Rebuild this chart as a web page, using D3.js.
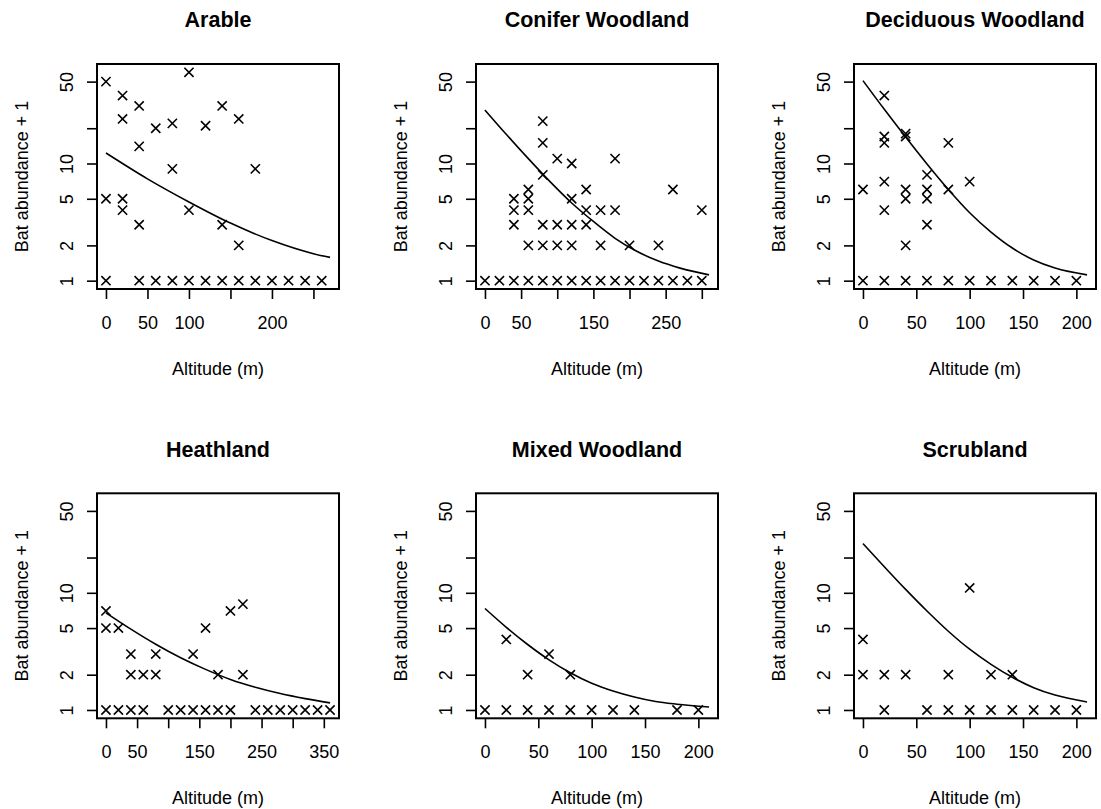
<!DOCTYPE html>
<meta charset="utf-8">
<html>
<head>
<style>
  body { margin: 0; background: #fff; }
  text { font-family: "Liberation Sans", Arial, Helvetica, sans-serif; fill: #000; }
  text.title { font-size: 21.5px; font-weight: bold; }
  text.lab { font-size: 18px; }
  .tick text { font-size: 18px; }
</style>
<script src="https://cdn.jsdelivr.net/npm/d3@7"></script>
</head>
<body>
<div id="chart"></div>
<script>
// habitat names, in panel order
var habitats = ["Arable", "Conifer Woodland", "Deciduous Woodland", "Heathland", "Mixed Woodland", "Scrubland"];

// observed points: altitude (m) and bat abundance + 1
var arableAlt = [0,0,0, 20,20,20,20, 40,40,40,40, 60,60, 80,80,80, 100,100,100, 120,120, 140,140,140, 160,160,160, 180,180, 200, 220, 240, 260];
var arableBat = [50,5,1, 38,24,5,4, 31,14,3,1, 20,1, 22,9,1, 60,4,1, 21,1, 31,3,1, 24,2,1, 9,1, 1, 1, 1, 1];

var coniferAlt = [0, 20, 40,40,40,40, 60,60,60,60,60, 80,80,80,80,80,80, 100,100,100,100, 120,120,120,120,120, 140,140,140,140, 160,160,160, 180,180,180, 200,200, 220, 240,240, 260,260, 280, 300,300];
var coniferBat = [1, 1, 5,4,3,1, 6,5,4,2,1, 23,15,8,3,2,1, 11,3,2,1, 10,5,3,2,1, 6,4,3,1, 4,2,1, 11,4,1, 2,1, 1, 2,1, 6,1, 1, 4,1];

var deciduousAlt = [0,0, 20,20,20,20,20,20, 40,40,40,40,40,40, 60,60,60,60,60, 80,80,80, 100,100, 120, 140, 160, 180, 200];
var deciduousBat = [6,1, 38,17,15,7,4,1, 18,17,6,5,2,1, 8,6,5,3,1, 15,6,1, 7,1, 1, 1, 1, 1, 1];

var heathAlt = [0,0,0, 20,20, 40,40,40, 60,60, 80,80, 100, 120, 140,140, 160,160, 180,180, 200,200, 220,220, 240, 260, 280, 300, 320, 340, 360];
var heathBat = [7,5,1, 5,1, 3,2,1, 2,1, 3,2, 1, 1, 3,1, 5,1, 2,1, 7,1, 8,2, 1, 1, 1, 1, 1, 1, 1];

var mixedAlt = [0, 20,20, 40,40, 60,60, 80,80, 100, 120, 140, 180, 200];
var mixedBat = [1, 4,1, 2,1, 3,1, 2,1, 1, 1, 1, 1, 1];

var scrubAlt = [0,0, 20,20, 40, 60, 80,80, 100,100, 120,120, 140,140, 160, 180, 200];
var scrubBat = [4,2, 2,1, 2, 1, 2,1, 11,1, 2,1, 2,1, 1, 1, 1];

// fitted curves
var arableFitAlt = [0, 50, 100, 150, 200, 250, 270];
var arableFitBat = [12.3, 7.4, 4.7, 3.1, 2.2, 1.7, 1.58];
var coniferFitAlt = [0, 30, 60, 90, 120, 150, 180, 210, 240, 270, 310];
var coniferFitBat = [28.6, 17.6, 11.0, 7.0, 4.6, 3.2, 2.3, 1.78, 1.47, 1.28, 1.12];
var deciduousFitAlt = [0, 20, 40, 60, 80, 100, 120, 140, 160, 180, 210];
var deciduousFitBat = [51, 29, 16.8, 9.9, 6.0, 3.8, 2.6, 1.9, 1.5, 1.28, 1.12];
var heathFitAlt = [0, 40, 80, 120, 160, 200, 240, 280, 320, 360];
var heathFitBat = [6.75, 4.9, 3.64, 2.79, 2.22, 1.82, 1.56, 1.38, 1.25, 1.15];
var mixedFitAlt = [0, 20, 40, 60, 80, 100, 120, 140, 160, 180, 210];
var mixedFitBat = [7.35, 5.08, 3.62, 2.68, 2.08, 1.69, 1.45, 1.29, 1.18, 1.12, 1.06];
var scrubFitAlt = [0, 20, 40, 60, 80, 100, 120, 140, 160, 180, 210];
var scrubFitBat = [26.3, 16.7, 10.7, 7.0, 4.7, 3.3, 2.45, 1.9, 1.55, 1.34, 1.17];

// x axis range and tick labels per panel
var xMax = [270, 310, 210, 360, 210, 210];
var xTicks = [
  [0, 50, 100, 150, 200, 250],
  [0, 50, 100, 150, 200, 250, 300],
  [0, 50, 100, 150, 200],
  [0, 50, 100, 150, 200, 250, 300, 350],
  [0, 50, 100, 150, 200],
  [0, 50, 100, 150, 200]
];
var xLabels = [
  [0, 50, 100, 200],
  [0, 50, 150, 250],
  [0, 50, 100, 150, 200],
  [0, 50, 150, 250, 350],
  [0, 50, 100, 150, 200],
  [0, 50, 100, 150, 200]
];
var yRange = [1, 60];
var yTicks = [1, 2, 5, 10, 20, 50];
var yLabels = [1, 2, 5, 10, 50];

var pts = [[arableAlt, arableBat], [coniferAlt, coniferBat], [deciduousAlt, deciduousBat],
           [heathAlt, heathBat], [mixedAlt, mixedBat], [scrubAlt, scrubBat]];
var fits = [[arableFitAlt, arableFitBat], [coniferFitAlt, coniferFitBat], [deciduousFitAlt, deciduousFitBat],
            [heathFitAlt, heathFitBat], [mixedFitAlt, mixedFitBat], [scrubFitAlt, scrubFitBat]];

// layout
var W = 1101, H = 809;
var colLeft = [97, 476, 854], rowTop = [64, 493.3];
var boxW = 242, boxH = 225;

var svg = d3.select("#chart").append("svg")
    .attr("width", W).attr("height", H);
svg.append("rect").attr("width", W).attr("height", H).attr("fill", "#fff");

// R style 4% padding
var ly0 = Math.log10(yRange[0]), ly1 = Math.log10(yRange[1]), lpad = (ly1 - ly0) * 0.04;

habitats.forEach(function(name, k) {
  var x0 = colLeft[k % 3], y0 = rowTop[Math.floor(k / 3)];
  var g = svg.append("g").attr("transform", "translate(" + x0 + "," + y0 + ")");

  var xpad = xMax[k] * 0.04;
  var x = d3.scaleLinear().domain([-xpad, xMax[k] + xpad]).range([0, boxW]);
  var y = d3.scaleLog().domain([Math.pow(10, ly0 - lpad), Math.pow(10, ly1 + lpad)]).range([boxH, 0]);

  // x axis
  var xa = g.append("g").attr("transform", "translate(0," + boxH + ")")
      .call(d3.axisBottom(x).tickValues(xTicks[k]).tickSize(10).tickPadding(17)
        .tickFormat(function(d) { return xLabels[k].indexOf(d) >= 0 ? d : ""; }));
  xa.select(".domain").remove();
  xa.selectAll(".tick line").attr("stroke", "#000").attr("stroke-width", 1.6);

  // y axis, labels parallel to axis
  var ya = g.append("g")
      .call(d3.axisLeft(y).tickValues(yTicks).tickSize(10)
        .tickFormat(function(d) { return yLabels.indexOf(d) >= 0 ? d : ""; }));
  ya.select(".domain").remove();
  ya.selectAll(".tick line").attr("stroke", "#000").attr("stroke-width", 1.6);
  ya.selectAll(".tick text")
      .attr("transform", "rotate(-90)")
      .attr("x", 0).attr("y", -24).attr("dy", 0)
      .attr("text-anchor", "middle");
  xa.attr("font-family", null).attr("font-size", null);
  ya.attr("font-family", null).attr("font-size", null);

  // box
  g.append("rect").attr("width", boxW).attr("height", boxH)
      .attr("fill", "none").attr("stroke", "#000").attr("stroke-width", 2);

  // fitted line
  var fa = fits[k][0], fb = fits[k][1];
  var line = d3.line()
      .x(function(d, i) { return x(fa[i]); })
      .y(function(d, i) { return y(fb[i]); })
      .curve(d3.curveMonotoneX);
  g.append("path").datum(fa).attr("d", line)
      .attr("fill", "none").attr("stroke", "#000").attr("stroke-width", 1.6);

  // points, pch = 4
  var pa = pts[k][0], pb = pts[k][1], s = 4.6;
  g.selectAll(".pt").data(pa).enter().append("path")
      .attr("class", "pt")
      .attr("transform", function(d, i) { return "translate(" + x(d) + "," + y(pb[i]) + ")"; })
      .attr("d", "M" + (-s) + "," + (-s) + "L" + s + "," + s + "M" + s + "," + (-s) + "L" + (-s) + "," + s)
      .attr("stroke", "#000").attr("stroke-width", 1.6).attr("fill", "none");

  // titles and axis labels
  g.append("text").attr("class", "title")
      .attr("x", boxW / 2).attr("y", -36.7).attr("text-anchor", "middle").text(name);
  g.append("text").attr("class", "lab")
      .attr("x", boxW / 2).attr("y", boxH + 86).attr("text-anchor", "middle").text("Altitude (m)");
  g.append("text").attr("class", "lab")
      .attr("transform", "translate(-69," + (boxH / 2) + ") rotate(-90)")
      .attr("text-anchor", "middle").text("Bat abundance + 1");
});
</script>
</body>
</html>
